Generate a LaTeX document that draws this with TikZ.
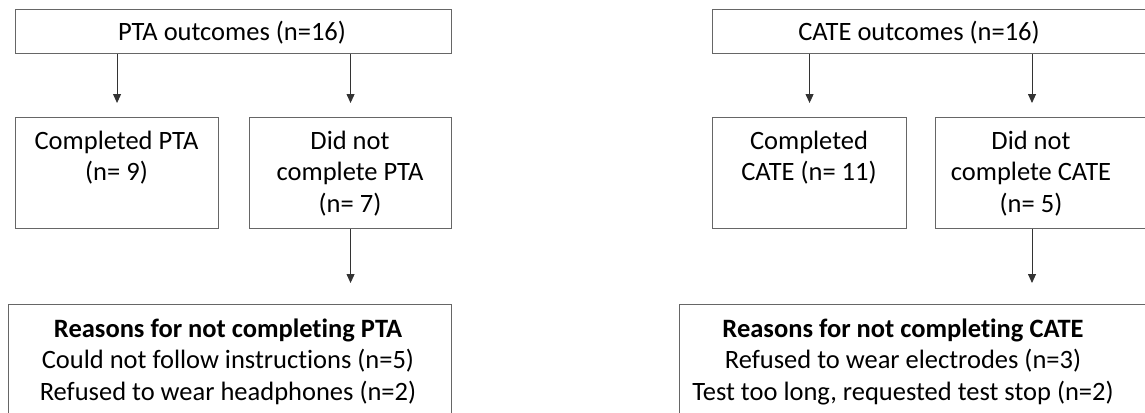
\documentclass[tikz,border=0pt]{standalone}
\usepackage{fontspec}
\setmainfont{Carlito}[Ligatures=NoCommon]
\usetikzlibrary{arrows.meta}
\begin{document}
\begin{tikzpicture}[x=1pt,y=-1pt,
  box/.style={draw=black!60,line width=1.1pt,rectangle,inner sep=0pt},
  lbl/.style={inner sep=0pt,align=center,font=\fontsize{26.5}{31.5}\selectfont,anchor=base},
  arr/.style={draw=black!80,line width=0.9pt,-{Triangle[length=9pt,width=8pt]}}]
\useasboundingbox (0,0) rectangle (1145,412);
\clip (0,0) rectangle (1145,412);
% left column
\node[box,minimum width=436pt,minimum height=44pt,anchor=north west] (top1) at (15,9) {};
\node[box,minimum width=203pt,minimum height=111pt,anchor=north west] (comp1) at (15,117) {};
\node[box,minimum width=202pt,minimum height=111pt,anchor=north west] (dnc1) at (249,117) {};
\node[box,minimum width=443pt,minimum height=140pt,anchor=north west] (reas1) at (8,304) {};
\node[lbl] (t1) at (232,41) {PTA outcomes (n=16)};
\node[lbl] (tc1) at (116.5,180.5) {Completed PTA\\(n= 9)};
\node[lbl] (td1) at (350,212) {Did not\\complete PTA\\(n= 7)};
\node[lbl] (tr1) at (228,400) {\textbf{Reasons for not completing PTA}\\Could not follow instructions (n=5)\\Refused to wear headphones (n=2)};
\draw[arr,shorten >=14pt] (top1.south -| comp1.north) -- (comp1.north);
\draw[arr,shorten >=14pt] (top1.south -| dnc1.north) -- (dnc1.north);
\draw[arr,shorten >=21pt] (dnc1.south) -- (reas1.north -| dnc1.south);
% right column
\node[box,minimum width=460pt,minimum height=44pt,anchor=north west] (top2) at (712,9) {};
\node[box,minimum width=194pt,minimum height=111pt,anchor=north west] (comp2) at (712,117) {};
\node[box,minimum width=230pt,minimum height=111pt,anchor=north west] (dnc2) at (935,117) {};
\node[box,minimum width=490pt,minimum height=140pt,anchor=north west] (reas2) at (679,304) {};
\coordinate (c2) at (1032,117);
\node[lbl] (t2) at (919,41) {CATE outcomes (n=16)};
\node[lbl] (tc2) at (809,180.5) {Completed\\CATE (n= 11)};
\node[lbl] (td2) at (1031,212) {Did not\\complete CATE\\(n= 5)};
\node[lbl] (tr2) at (903,400) {\textbf{Reasons for not completing CATE}\\Refused to wear electrodes (n=3)\\Test too long, requested test stop (n=2)};
\draw[arr,shorten >=14pt] (top2.south -| comp2.north) -- (comp2.north);
\draw[arr,shorten >=14pt] (top2.south -| c2) -- (c2);
\draw[arr,shorten >=21pt] (dnc2.south -| c2) -- (reas2.north -| c2);
\end{tikzpicture}
\end{document}
